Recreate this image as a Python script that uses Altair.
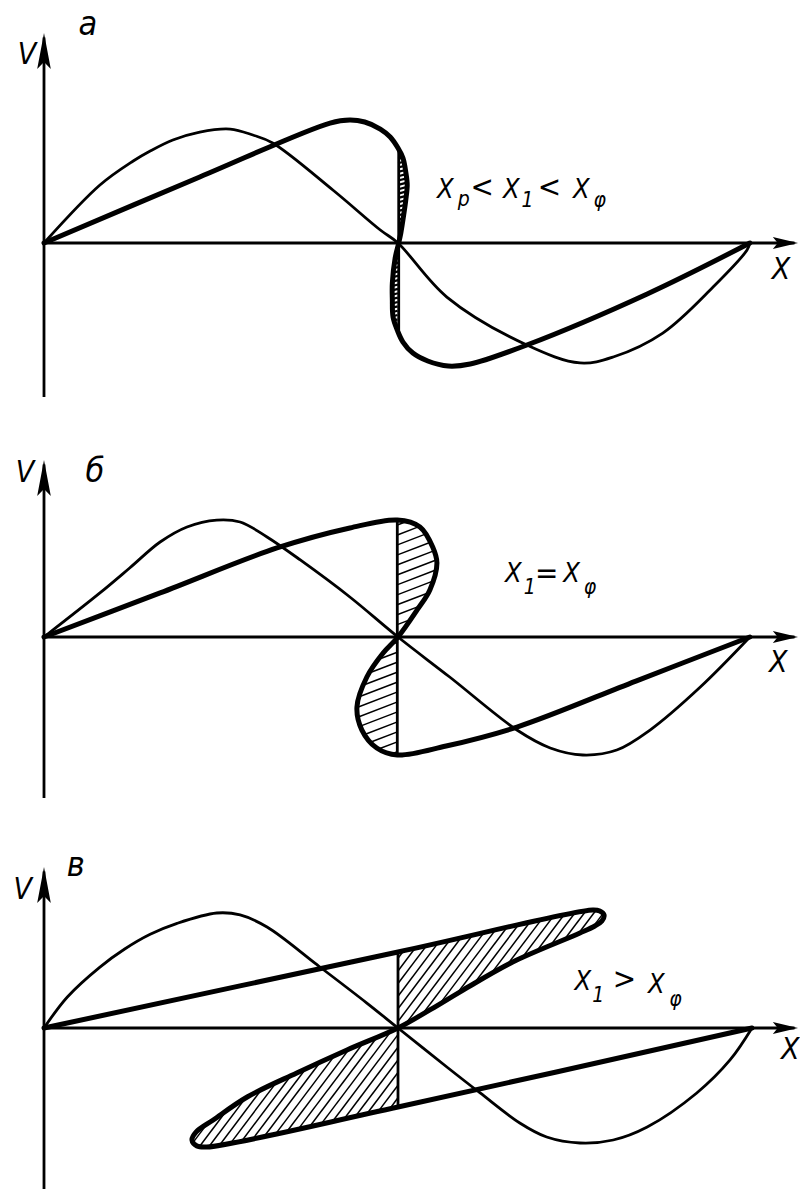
import altair as alt
import numpy as np
import pandas as pd

# Three stages of a steepening wave profile v(x).
# x is given in percent of the wavelength (0 at the v axis),
# v in percent of the initial amplitude.

# ---------- panel а : x_p < x_1 < x_phi ----------
A_WAVE_X = [0, 7.9, 12.6, 15.0, 18.2, 22.0, 26.3, 29.5, 32.3, 40.8, 47.5, 50.0, 56.9, 68.2, 75.7, 80.4, 87.4, 94.5, 99.3, 99.7]
A_WAVE_V = [0, 50.4, 71.3, 80.0, 89.6, 96.5, 99.1, 93.9, 87.0, 46.1, 11.3, 0, -47.0, -88.7, -104.3, -99.1, -78.3, -38.3, -6.1, 0]
A_RISE_X = [0, 22.0, 40.4, 43.2, 45.3, 47.5, 48.9, 50.0]
A_RISE_V = [0, 57.4, 104.3, 107.0, 105.2, 99.1, 92.2, 82.6]
A_LOBE_UP_X = [50.0, 50.7, 51.1, 51.3, 51.1, 50.8, 50.4, 50.1]
A_LOBE_UP_V = [82.6, 73.9, 61.7, 50.4, 37.4, 24.3, 8.7, 0]
A_LOBE_DN_X = [50.1, 49.6, 49.2, 49.2, 49.3, 49.9]
A_LOBE_DN_V = [0, -13.0, -34.8, -49.6, -64.3, -75.7]
A_FALL_X = [49.9, 50.7, 52.1, 54.2, 57.1, 60.2, 68.2, 85.2, 99.7]
A_FALL_V = [-75.7, -86.1, -95.7, -102.6, -107.0, -105.2, -88.7, -44.3, 0]
A_SHOCK = (50.1, 82.6, -75.7)

# ---------- panel б : x_1 = x_phi ----------
B_WAVE_X = [0, 7.9, 12.1, 16.4, 20.2, 24.4, 27.7, 31.5, 36.2, 43.2, 50.0, 57.3, 66.8, 71.5, 76.1, 80.9, 85.6, 92.7, 99.7]
B_WAVE_V = [0, 38.3, 60.0, 82.6, 95.7, 101.7, 100.0, 87.0, 67.0, 34.8, 0, -34.8, -80.9, -96.5, -102.6, -98.3, -80.9, -43.5, 0]
B_RISE_X = [0, 16.4, 32.9, 43.2, 49.9]
B_RISE_V = [0, 38.3, 77.4, 94.8, 101.7]
B_LOBE_UP_X = [49.9, 53.1, 54.9, 55.5, 54.5, 52.7, 50.0]
B_LOBE_UP_V = [101.7, 95.7, 78.3, 64.3, 40.9, 23.5, 0]
B_LOBE_DN_X = [50.0, 47.9, 45.6, 44.2, 44.9, 47.0, 49.9]
B_LOBE_DN_V = [0, -13.9, -34.8, -60.9, -80.9, -96.5, -102.6]
B_FALL_X = [49.9, 56.8, 66.8, 83.6, 99.7]
B_FALL_V = [-102.6, -94.8, -78.3, -38.3, 0]
B_SHOCK = (49.9, 101.7, -102.6)

# ---------- panel в : x_1 > x_phi ----------
C_WAVE_X = [0, 3.3, 7.9, 11.4, 15.0, 18.8, 24.4, 27.7, 31.5, 38.6, 45.6, 50.0, 56.9, 61.6, 67.2, 71.0, 75.7, 80.4, 85.2, 92.2, 96.9, 100]
C_WAVE_V = [0, 27.0, 53.0, 68.7, 81.5, 91.0, 100.0, 98.3, 87.8, 54.8, 21.7, 0, -33.9, -56.5, -82.6, -94.8, -100.0, -97.4, -86.1, -56.5, -27.8, 0]
C_RISE_X = [0, 50.0]
C_RISE_V = [0, 66.1]
C_LOBE_UP_X = [50.0, 77.5, 78.5, 79.1, 78.8, 77.8, 75.7, 66.2, 59.2, 54.5, 50.0]
C_LOBE_UP_V = [66.1, 102.6, 101.7, 98.3, 93.0, 88.7, 82.6, 57.4, 33.0, 15.7, 0]
C_LOBE_DN_X = [50.0, 42.8, 35.7, 28.7, 23.9, 21.5, 20.9, 21.6, 23.0, 50.0]
C_LOBE_DN_V = [0, -19.1, -39.1, -60.0, -80.0, -90.4, -97.4, -102.6, -103.5, -68.7]
C_FALL_X = [50.0, 100]
C_FALL_V = [-68.7, 0]
C_SHOCK = (50.0, 66.1, -68.7)

# ---------- labels ----------
PANEL_LETTERS = ["а", "б", "в"]
# (text, x, v, role) - role picks the font size
FORMULA_A = [("X", 56.7, 39.1, "main"), ("p", 59.3, 32.2, "sub"), ("<", 61.9, 40.0, "rel"),
             ("X", 66.0, 39.1, "main"), ("1", 68.3, 31.3, "sub"), ("<", 71.4, 40.0, "rel"),
             ("X", 75.9, 39.1, "main"), ("φ", 78.5, 31.3, "sub")]
FORMULA_B = [("X", 66.3, 47.8, "main"), ("1", 68.6, 37.4, "sub"), ("=", 71.0, 47.0, "rel"),
             ("X", 74.5, 47.8, "main"), ("φ", 77.1, 37.4, "sub")]
FORMULA_C = [("X", 76.1, 33.0, "main"), ("1", 78.3, 22.6, "sub"), (">", 82.0, 34.0, "rel"),
             ("X", 86.5, 30.4, "main"), ("φ", 89.2, 19.1, "sub")]
ROLE_SIZE = {"main": 27, "sub": 21, "rel": 31}

# ---------- layout ----------
W = 800
PX_PER_X = 7.08
PX_PER_V = 1.15
X_DOMAIN = [-44 / PX_PER_X, (W - 44) / PX_PER_X]
X_AXIS_TIP = 106.5
FONT = "Liberation Sans Narrow, DejaVu Sans Condensed, Liberation Sans, sans-serif"

PANELS = [
    dict(height=400, axis_px=243, ytip=182.6, ybot=-133.9,
         wave=(A_WAVE_X, A_WAVE_V), rise=(A_RISE_X, A_RISE_V),
         up=(A_LOBE_UP_X, A_LOBE_UP_V), dn=(A_LOBE_DN_X, A_LOBE_DN_V),
         fall=(A_FALL_X, A_FALL_V), shock=A_SHOCK, hatch=(15, 4.2, 2.2),
         letter=(PANEL_LETTERS[0], 6.2, 189.6), vlab=(-2.4, 163.5), xlab=(104.1, -23.5),
         formula=FORMULA_A),
    dict(height=400, axis_px=237, ytip=153.9, ybot=-140.0,
         wave=(B_WAVE_X, B_WAVE_V), rise=(B_RISE_X, B_RISE_V),
         up=(B_LOBE_UP_X, B_LOBE_UP_V), dn=(B_LOBE_DN_X, B_LOBE_DN_V),
         fall=(B_FALL_X, B_FALL_V), shock=B_SHOCK, hatch=(21, 9.3, 1.5),
         letter=(PANEL_LETTERS[1], 7.2, 143.5), vlab=(-2.7, 142.6), xlab=(103.7, -22.6),
         formula=FORMULA_B),
    dict(height=389, axis_px=228, ytip=140.0, ybot=-140.0,
         wave=(C_WAVE_X, C_WAVE_V), rise=(C_RISE_X, C_RISE_V),
         up=(C_LOBE_UP_X, C_LOBE_UP_V), dn=(C_LOBE_DN_X, C_LOBE_DN_V),
         fall=(C_FALL_X, C_FALL_V), shock=C_SHOCK, hatch=(53, 7.6, 1.5),
         letter=(PANEL_LETTERS[2], 4.5, 140.9), vlab=(-3.0, 120.0), xlab=(105.4, -19.1),
         formula=FORMULA_C),
]

Y_ARROW = "M0,0 L0.34,1.8 L0,1.45 L-0.34,1.8 Z"
X_ARROW = "M0,0 L-1.8,-0.42 L-1.45,0 L-1.8,0.42 Z"


def hatch_segments(xs, vs, vtop, angle, spacing):
    """Clip a family of parallel lines to the lobe polygon (in screen pixels)."""
    px = (np.asarray(xs) - X_DOMAIN[0]) * PX_PER_X
    py = (vtop - np.asarray(vs)) * PX_PER_V
    P = np.column_stack([px, py])
    th = np.radians(angle)
    d = np.array([np.cos(th), -np.sin(th)])
    n = np.array([np.sin(th), np.cos(th)])
    proj = P @ n
    rows = []
    m = len(P)
    for c in np.arange(proj.min() + spacing / 2, proj.max(), spacing):
        pts = []
        for k in range(m):
            a, b = P[k], P[(k + 1) % m]
            sa, sb = a @ n - c, b @ n - c
            if (sa < 0) != (sb < 0):
                t = sa / (sa - sb)
                pts.append(a + t * (b - a))
        pts.sort(key=lambda q: q @ d)
        for j in range(0, len(pts) - 1, 2):
            p0, p1 = pts[j], pts[j + 1]
            rows.append(dict(
                x=p0[0] / PX_PER_X + X_DOMAIN[0], v=vtop - p0[1] / PX_PER_V,
                x2=p1[0] / PX_PER_X + X_DOMAIN[0], v2=vtop - p1[1] / PX_PER_V))
    return rows


def make_panel(p):
    h = p["height"]
    vtop = p["axis_px"] / PX_PER_V
    vbot = -(h - p["axis_px"]) / PX_PER_V
    xs = alt.Scale(domain=X_DOMAIN, nice=False, zero=False)
    ys = alt.Scale(domain=[vbot, vtop], nice=False, zero=False)

    def X(f):
        return alt.X(f, type="quantitative", scale=xs, axis=None)

    def Y(f):
        return alt.Y(f, type="quantitative", scale=ys, axis=None)

    # coordinate axes
    axes_df = pd.DataFrame([
        dict(x=0, v=p["ybot"], x2=0, v2=p["ytip"] - 4),
        dict(x=0, v=0, x2=X_AXIS_TIP - 0.5, v2=0),
    ])
    axes = alt.Chart(axes_df).mark_rule(color="black", strokeWidth=2.8).encode(
        x=X("x"), y=Y("v"), x2="x2", y2="v2")
    y_arrow = alt.Chart(pd.DataFrame([dict(x=0, v=p["ytip"])])).mark_point(
        shape=Y_ARROW, size=1600, filled=True, color="black", opacity=1, strokeWidth=0
    ).encode(x=X("x"), y=Y("v"))
    x_arrow = alt.Chart(pd.DataFrame([dict(x=X_AXIS_TIP, v=0)])).mark_point(
        shape=X_ARROW, size=784, filled=True, color="black", opacity=1, strokeWidth=0
    ).encode(x=X("x"), y=Y("v"))

    # initial (thin) profile
    wx, wv = p["wave"]
    wave_df = pd.DataFrame(dict(x=wx, v=wv, i=range(len(wx))))
    wave = alt.Chart(wave_df).mark_line(
        color="black", strokeWidth=2.8, interpolate="catmull-rom"
    ).encode(x=X("x"), y=Y("v"), order=alt.Order("i:Q"))

    # distorted (thick) profile, a multivalued curve
    tx, tv = [], []
    for key in ("rise", "up", "dn", "fall"):
        kx, kv = p[key]
        start = 0 if not tx else 1
        tx += list(kx[start:])
        tv += list(kv[start:])
    thick_df = pd.DataFrame(dict(x=tx, v=tv, i=range(len(tx))))
    thick = alt.Chart(thick_df).mark_line(
        color="black", strokeWidth=5, interpolate="catmull-rom",
        strokeJoin="round", strokeCap="round"
    ).encode(x=X("x"), y=Y("v"), order=alt.Order("i:Q"))

    # discontinuity line and hatched lobes
    sx, s_top, s_bot = p["shock"]
    shock = alt.Chart(pd.DataFrame([dict(x=sx, v=s_top, v2=s_bot)])).mark_rule(
        color="black", strokeWidth=2.8
    ).encode(x=X("x"), y=Y("v"), y2="v2")
    ang, sp, hw = p["hatch"]
    hrows = hatch_segments(*p["up"], vtop, ang, sp) + hatch_segments(*p["dn"], vtop, ang, sp)
    hatch = alt.Chart(pd.DataFrame(hrows)).mark_rule(
        color="black", strokeWidth=hw
    ).encode(x=X("x"), y=Y("v"), x2="x2", y2="v2")

    # labels
    lt, lx, lv = p["letter"]
    lab_df = pd.DataFrame([
        dict(t=lt, x=lx, v=lv, s=34),
        dict(t="V", x=p["vlab"][0], v=p["vlab"][1], s=30),
        dict(t="X", x=p["xlab"][0], v=p["xlab"][1], s=30),
    ])
    labels = alt.Chart(lab_df).mark_text(
        font=FONT, fontStyle="italic", baseline="middle", align="center", color="black"
    ).encode(x=X("x"), y=Y("v"), text="t:N", size=alt.Size("s:Q", scale=None))
    f_df = pd.DataFrame([dict(t=t, x=x, v=v, s=ROLE_SIZE[r]) for t, x, v, r in p["formula"]])
    formula = alt.Chart(f_df).mark_text(
        font=FONT, fontStyle="italic", baseline="alphabetic", align="center", color="black"
    ).encode(x=X("x"), y=Y("v"), text="t:N", size=alt.Size("s:Q", scale=None))

    return alt.layer(hatch, axes, y_arrow, x_arrow, wave, shock, thick, labels, formula).properties(
        width=W, height=h)


chart = alt.vconcat(*[make_panel(p) for p in PANELS], spacing=0, bounds="flush").properties(
    padding=0, background="white"
).configure_view(stroke=None)

chart.save("out.html", embed_options={"renderer": "svg", "actions": False})
